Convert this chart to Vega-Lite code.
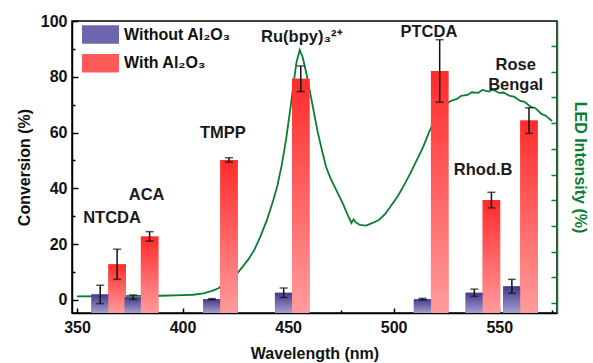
{
  "$schema": "https://vega.github.io/schema/vega-lite/v6.json",
  "width": 485,
  "height": 292,
  "autosize": {"type": "none"},
  "padding": {"left": 72, "top": 21, "right": 36, "bottom": 50},
  "background": "white",
  "config": {
    "font": "Liberation Sans",
    "view": {"stroke": "black", "strokeWidth": 1.5},
    "axis": {
      "labelFont": "Liberation Sans", "labelFontWeight": "bold", "labelFontSize": 16, "labelColor": "#111111",
      "titleFont": "Liberation Sans", "titleFontWeight": "bold", "titleFontSize": 16, "titleColor": "#111111",
      "domainColor": "black", "domainWidth": 1.5, "tickColor": "black", "tickWidth": 1.5, "grid": false
    }
  },
  "datasets": {
    "led": [
      {"wavelength": 350, "intensity": 2.64}, {"wavelength": 360, "intensity": 2.72}, {"wavelength": 370, "intensity": 2.76},
      {"wavelength": 380, "intensity": 2.84}, {"wavelength": 390, "intensity": 2.91}, {"wavelength": 400, "intensity": 3.11},
      {"wavelength": 405, "intensity": 3.3}, {"wavelength": 410, "intensity": 3.81}, {"wavelength": 414, "intensity": 4.78},
      {"wavelength": 417, "intensity": 5.83}, {"wavelength": 421, "intensity": 8.28}, {"wavelength": 424.7, "intensity": 10.34},
      {"wavelength": 428, "intensity": 13.72}, {"wavelength": 431, "intensity": 16.83}, {"wavelength": 434, "intensity": 20.72},
      {"wavelength": 437, "intensity": 26.16}, {"wavelength": 440, "intensity": 32.37}, {"wavelength": 443, "intensity": 40.15},
      {"wavelength": 445, "intensity": 45.98}, {"wavelength": 447, "intensity": 53.75}, {"wavelength": 449, "intensity": 63.47},
      {"wavelength": 451, "intensity": 75.13}, {"wavelength": 452.5, "intensity": 84.85}, {"wavelength": 454, "intensity": 93.78},
      {"wavelength": 455.5, "intensity": 98.45}, {"wavelength": 457, "intensity": 95.34}, {"wavelength": 458.5, "intensity": 89.9},
      {"wavelength": 460, "intensity": 83.68}, {"wavelength": 462, "intensity": 75.13}, {"wavelength": 464, "intensity": 66.58},
      {"wavelength": 466, "intensity": 59.58}, {"wavelength": 468, "intensity": 52.97}, {"wavelength": 470, "intensity": 48.7},
      {"wavelength": 473, "intensity": 43.65}, {"wavelength": 476, "intensity": 38.59}, {"wavelength": 478, "intensity": 34.7},
      {"wavelength": 480, "intensity": 31.2}, {"wavelength": 481, "intensity": 32.6}, {"wavelength": 482, "intensity": 31.5},
      {"wavelength": 484, "intensity": 30.42}, {"wavelength": 487, "intensity": 30.2}, {"wavelength": 490, "intensity": 31.2},
      {"wavelength": 493, "intensity": 32.37}, {"wavelength": 496, "intensity": 34.7}, {"wavelength": 499, "intensity": 38.2},
      {"wavelength": 502, "intensity": 41.7}, {"wavelength": 505, "intensity": 45.98}, {"wavelength": 508, "intensity": 50.64},
      {"wavelength": 511, "intensity": 55.69}, {"wavelength": 514, "intensity": 60.75}, {"wavelength": 517, "intensity": 66.97},
      {"wavelength": 520, "intensity": 72.03}, {"wavelength": 522, "intensity": 75.13}, {"wavelength": 525, "intensity": 77.46},
      {"wavelength": 527, "intensity": 78.6}, {"wavelength": 530, "intensity": 79.4}, {"wavelength": 532, "intensity": 80.6},
      {"wavelength": 535, "intensity": 80.96}, {"wavelength": 537, "intensity": 82.0}, {"wavelength": 540, "intensity": 81.74},
      {"wavelength": 542, "intensity": 82.9}, {"wavelength": 545, "intensity": 82.24}, {"wavelength": 547, "intensity": 83.0},
      {"wavelength": 550, "intensity": 81.74}, {"wavelength": 552, "intensity": 81.9}, {"wavelength": 555, "intensity": 80.57},
      {"wavelength": 557, "intensity": 80.3}, {"wavelength": 560, "intensity": 78.63}, {"wavelength": 562, "intensity": 78.3},
      {"wavelength": 565, "intensity": 76.3}, {"wavelength": 567, "intensity": 75.9}, {"wavelength": 570, "intensity": 73.58},
      {"wavelength": 572, "intensity": 72.9}, {"wavelength": 575, "intensity": 70.85}
    ],
    "bars": [
      {"dye": "NTCDA", "series": "Without Al₂O₃", "wavelength": 361, "conversion": 2.0, "err": 3.3},
      {"dye": "NTCDA", "series": "With Al₂O₃", "wavelength": 369, "conversion": 12.8, "err": 5.4},
      {"dye": "ACA", "series": "Without Al₂O₃", "wavelength": 376.6, "conversion": 1.0, "err": 0.8},
      {"dye": "ACA", "series": "With Al₂O₃", "wavelength": 384.4, "conversion": 22.8, "err": 1.7},
      {"dye": "TMPP", "series": "Without Al₂O₃", "wavelength": 413.9, "conversion": 0.3, "err": 0.2},
      {"dye": "TMPP", "series": "With Al₂O₃", "wavelength": 422, "conversion": 50.2, "err": 0.8},
      {"dye": "Ru(bpy)3", "series": "Without Al₂O₃", "wavelength": 447.9, "conversion": 2.6, "err": 1.7},
      {"dye": "Ru(bpy)3", "series": "With Al₂O₃", "wavelength": 456, "conversion": 79.3, "err": 4.6},
      {"dye": "PTCDA", "series": "Without Al₂O₃", "wavelength": 513.7, "conversion": 0.3, "err": 0.3},
      {"dye": "PTCDA", "series": "With Al₂O₃", "wavelength": 521.8, "conversion": 82.1, "err": 11.2},
      {"dye": "Rhod.B", "series": "Without Al₂O₃", "wavelength": 538.2, "conversion": 2.6, "err": 1.3},
      {"dye": "Rhod.B", "series": "With Al₂O₃", "wavelength": 546.3, "conversion": 35.8, "err": 2.8},
      {"dye": "Rose Bengal", "series": "Without Al₂O₃", "wavelength": 556, "conversion": 4.9, "err": 2.5},
      {"dye": "Rose Bengal", "series": "With Al₂O₃", "wavelength": 564.1, "conversion": 64.3, "err": 4.6}
    ],
    "labels": [
      {"label": "NTCDA", "wavelength": 366.6, "conversion": 29.3},
      {"label": "ACA", "wavelength": 383.0, "conversion": 37.6},
      {"label": "TMPP", "wavelength": 419.1, "conversion": 59.7},
      {"label": "Ru(bpy)₃²⁺", "wavelength": 456.5, "conversion": 94.4},
      {"label": "PTCDA", "wavelength": 516.7, "conversion": 96.2},
      {"label": "Rose Bengal", "wavelength": 557.8, "conversion": 84.2},
      {"label": "Rhod.B", "wavelength": 542.4, "conversion": 46.6}
    ]
  },
  "encoding": {
    "x": {
      "field": "wavelength", "type": "quantitative",
      "scale": {"domain": [350, 575], "nice": false, "zero": false},
      "axis": {
        "title": "Wavelength (nm)",
        "values": [350, 375, 400, 425, 450, 475, 500, 525, 550, 575],
        "labelExpr": "datum.value % 50 === 0 ? datum.label : ''",
        "tickSize": {"condition": {"test": "datum.value % 50 === 0", "value": -5}, "value": -3},
        "labelPadding": 11,
        "titlePadding": 10,
        "labelFlush": false
      }
    }
  },
  "layer": [
    {
      "data": {"name": "led"},
      "mark": {"type": "line", "color": "#0b7d33", "strokeWidth": 1.8},
      "encoding": {
        "y": {
          "field": "intensity", "type": "quantitative",
          "scale": {"domain": [-3.8, 109.7], "nice": false, "zero": false},
          "axis": {
            "orient": "right", "title": "LED Intensity (%)", "titleColor": "#0b7d33",
            "values": [0, 10, 20, 30, 40, 50, 60, 70, 80, 90, 100],
            "labels": false, "tickSize": -6, "tickColor": "#0b7d33", "domainColor": "#0b7d33",
            "titlePadding": 14
          }
        }
      }
    },
    {
      "encoding": {
        "y": {
          "field": "conversion", "type": "quantitative",
          "scale": {"domain": [-4.66, 100], "nice": false, "zero": false},
          "axis": {
            "orient": "left", "title": "Conversion (%)",
            "values": [0, 10, 20, 30, 40, 50, 60, 70, 80, 90, 100],
            "labelExpr": "datum.value % 20 === 0 ? datum.label : ''",
            "tickSize": {"condition": {"test": "datum.value % 20 === 0", "value": -6}, "value": -3},
            "labelPadding": 11,
            "titlePadding": 8,
            "labelFlush": false
          }
        }
      },
      "layer": [
        {
          "data": {"name": "bars"},
          "mark": {"type": "bar", "size": 17.5, "strokeWidth": 0},
          "encoding": {
            "y2": {"datum": -4.66},
            "fill": {
              "field": "series", "type": "nominal",
              "scale": {"domain": ["Without Al₂O₃", "With Al₂O₃"], "range": ["#6d66ae", "#ff5a5a"]},
              "legend": {
                "orient": "none", "legendX": 10, "legendY": -5, "title": null,
                "symbolType": "M-1,-0.5H1V0.5H-1Z", "symbolSize": 1369, "symbolStrokeWidth": 0,
                "labelFont": "Liberation Sans", "labelFontSize": 16, "labelFontWeight": "bold", "labelColor": "#111111",
                "labelOffset": 5, "rowPadding": 0.7, "padding": 0,
                "encode": {
                  "symbols": {
                    "update": {
                      "fill": [
                        {"test": "datum.value === 'With Al₂O₃'", "value": {"gradient": "linear", "x1": 0, "y1": 0, "x2": 0, "y2": 1, "stops": [{"offset": 0, "color": "#ff2b2b"}, {"offset": 1, "color": "#ff9c9c"}]}},
                        {"value": {"gradient": "linear", "x1": 0, "y1": 0, "x2": 0, "y2": 1, "stops": [{"offset": 0, "color": "#45398c"}, {"offset": 1, "color": "#a49ed0"}]}}
                      ]
                    }
                  }
                }
              }
            }
          }
        },
        {
          "data": {"name": "bars"},
          "mark": {"type": "bar", "size": 17.5, "strokeWidth": 0},
          "encoding": {
            "y2": {"datum": -4.66},
            "fill": {
              "condition": {"test": "datum.series === 'With Al₂O₃'", "value": {"gradient": "linear", "x1": 0, "y1": 0, "x2": 0, "y2": 1, "stops": [{"offset": 0, "color": "#ff2b2b"}, {"offset": 1, "color": "#ff9c9c"}]}},
              "value": {"gradient": "linear", "x1": 0, "y1": 0, "x2": 0, "y2": 1, "stops": [{"offset": 0, "color": "#45398c"}, {"offset": 1, "color": "#a49ed0"}]}
            }
          }
        },
        {
          "data": {"name": "bars"},
          "mark": {"type": "errorbar", "ticks": {"size": 8, "thickness": 1.5, "color": "#111111"}, "rule": {"strokeWidth": 1.5, "color": "#111111"}},
          "encoding": {
            "yError": {"field": "err"}
          }
        },
        {
          "data": {"name": "labels"},
          "mark": {"type": "text", "font": "Liberation Sans", "fontSize": 16.5, "fontWeight": "bold", "color": "#1a1a1a", "lineBreak": " ", "lineHeight": 19.5, "baseline": "middle", "align": "center"},
          "encoding": {
            "text": {"field": "label", "type": "nominal"}
          }
        }
      ]
    }
  ],
  "resolve": {"scale": {"y": "independent"}}
}
